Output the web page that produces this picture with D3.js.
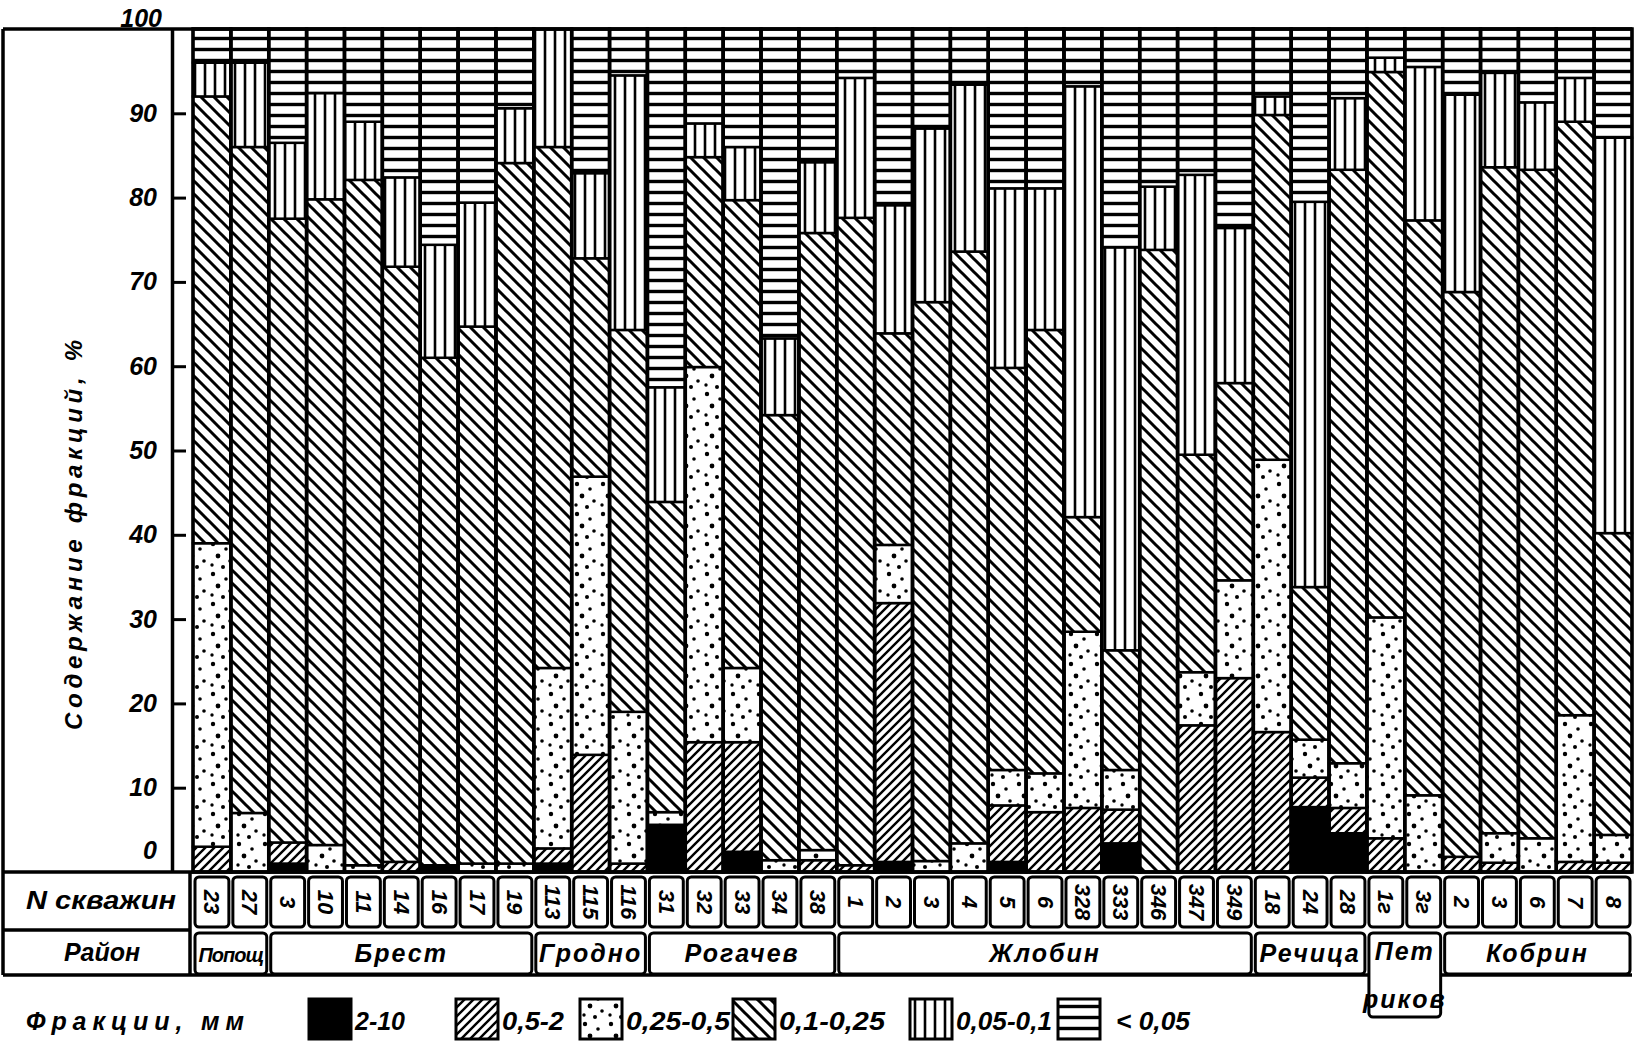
<!DOCTYPE html>
<html>
<head>
<meta charset="utf-8">
<script src="https://cdn.jsdelivr.net/npm/d3@7"></script>
<style>
body { margin: 0; background: #fff; }
svg text { font-family: "Liberation Sans", Arial, "DejaVu Sans", sans-serif; font-style: italic; font-weight: bold; fill: #000; }
</style>
</head>
<body>
<svg id="chart"></svg>
<script>
// wells (N скважин) and districts
const wells = ["23","27","3","10","11","14","16","17","19","113","115","116","31","32","33","34","38",
  "1","2","3","4","5","6","328","333","346","347","349","18","24","28","1г","3г","2","3","6","7","8"];
const districts = ["Попощ","Брест","Гродно","Рогачев","Жлобин","Речица","Петриков","Кобрин"];
const districtSize = [2, 7, 3, 5, 11, 3, 2, 5];

// fractions, mm (bottom to top)
const fractionLabels = ["2-10", "0,5-2", "0,25-0,5", "0,1-0,25", "0,05-0,1", "< 0,05"];

// content of each fraction, %
const f2_10   = [0,0,1,0,0,0,0.8,0,0,1,0,0,5.6,0,2.4,0,0, 0,1.2,0,0,1.2,0,0,3.4,0,0,0, 0,7.7,4.6, 0,0, 0,0,0,0,0];
const f05_2   = [3,0,2.5,0,0,1.2,0,0,0,1.8,13.9,1,0,15.4,13,0,1.4, 0.8,30.7,0,0,6.7,7.1,7.6,4,0,17.4,23, 16.6,3.5,3, 4,0, 1.8,1.1,0,1.2,1.1];
const f025_05 = [36,7,0,3.2,0.8,0,0,1,1,21.4,33,18,1.5,44.5,8.8,1.4,1.2, 0,6.9,1.3,3.4,4.2,4.6,20.9,4.7,0,6.3,11.6, 32.3,4.5,5.3, 26.2,9.1, 0,3.5,4,17.4,3.3];
const f01_025 = [53,79,74,76.6,81.3,70.6,60.2,63.7,83.1,61.8,25.9,45.3,36.8,24.9,55.5,52.8,73.2, 76.8,25.1,66.3,70.2,47.7,52.6,13.6,14.2,73.8,25.8,23.4, 40.9,18.1,70.4, 64.7,68.2, 67,79,79.3,70.4,35.8];
const f005_01 = [4,10,9,12.6,6.9,10.6,13.4,14.7,6.5,14,10.1,30.2,13.6,4,6.3,9.1,8.4, 16.6,15.2,20.6,19.8,21.3,16.8,51.1,47.8,7.5,33.2,18.4, 2.2,45.7,8.5, 1.7,18.2, 23.4,11.2,8,5.2,46.9];
const f_005   = [4,4,13.5,7.6,11,17.6,25.6,20.6,9.4,0,17.1,5.5,42.5,11.2,14,36.7,15.8, 5.8,20.9,11.8,6.6,18.9,18.9,6.8,25.9,18.7,17.3,23.6, 8,20.5,8.2, 3.4,4.5, 7.8,5.2,8.7,5.8,12.9];

const W = 1635, H = 1044;
const svg = d3.select("#chart").attr("width", W).attr("height", H);
svg.append("rect").attr("width", W).attr("height", H).attr("fill", "#fff");

const defs = svg.append("defs");
// 0,5-2 : forward hatch
const pF = defs.append("pattern").attr("id", "p1").attr("patternUnits", "userSpaceOnUse").attr("width", 9).attr("height", 9);
pF.append("rect").attr("width", 9).attr("height", 9).attr("fill", "#fff");
pF.append("path").attr("d", "M0,9L9,0M-2.25,2.25L2.25,-2.25M6.75,11.25L11.25,6.75").attr("stroke", "#000").attr("stroke-width", 2.4);
// 0,25-0,5 : dots
const pD = defs.append("pattern").attr("id", "p2").attr("patternUnits", "userSpaceOnUse").attr("width", 26).attr("height", 30);
pD.append("rect").attr("width", 26).attr("height", 30).attr("fill", "#fff");
[[5,4,2.2],[18,9,1.8],[10,16,2.4],[22,21,1.8],[4,25,1.7],[15,27,2]].forEach(c =>
  pD.append("circle").attr("cx", c[0]).attr("cy", c[1]).attr("r", c[2]).attr("fill", "#000"));
// 0,1-0,25 : back hatch
const pB = defs.append("pattern").attr("id", "p3").attr("patternUnits", "userSpaceOnUse").attr("width", 13).attr("height", 13);
pB.append("rect").attr("width", 13).attr("height", 13).attr("fill", "#fff");
pB.append("path").attr("d", "M0,0L13,13M-3.25,9.75L3.25,16.25M9.75,-3.25L16.25,3.25").attr("stroke", "#000").attr("stroke-width", 3);
// 0,05-0,1 : vertical lines
const pV = defs.append("pattern").attr("id", "p4").attr("patternUnits", "userSpaceOnUse").attr("width", 10).attr("height", 10);
pV.append("rect").attr("width", 10).attr("height", 10).attr("fill", "#fff");
pV.append("path").attr("d", "M5,0V10").attr("stroke", "#000").attr("stroke-width", 2.6);
// < 0,05 : horizontal lines
const pH = defs.append("pattern").attr("id", "p5").attr("patternUnits", "userSpaceOnUse").attr("width", 10).attr("height", 11);
pH.append("rect").attr("width", 10).attr("height", 11).attr("fill", "#fff");
pH.append("path").attr("d", "M0,5.5H10").attr("stroke", "#000").attr("stroke-width", 3.4);

const fills = ["#000", "url(#p1)", "url(#p2)", "url(#p3)", "url(#p4)", "url(#p5)"];

const y = d3.scaleLinear().domain([0, 100]).range([872, 29]);
const x = d3.scaleBand().domain(d3.range(wells.length)).range([193, 1632]).padding(0);

const keys = ["a","b","c","d","e","f"];
const series = [f2_10, f05_2, f025_05, f01_025, f005_01, f_005];
const rows = wells.map((w, i) => {
  const r = { i: i };
  keys.forEach((k, j) => r[k] = series[j][i]);
  return r;
});
const stacked = d3.stack().keys(keys)(rows);

svg.append("g").selectAll("g").data(stacked).join("g")
  .attr("fill", (d, k) => fills[k])
  .selectAll("rect").data(d => d.filter(s => s[1] - s[0] > 0.05)).join("rect")
  .attr("x", d => x(d.data.i))
  .attr("width", x.bandwidth())
  .attr("y", d => y(d[1]))
  .attr("height", d => y(d[0]) - y(d[1]))
  .attr("stroke", "#000").attr("stroke-width", 2.5);

// bar outlines
svg.append("g").selectAll("rect").data(rows).join("rect")
  .attr("x", d => x(d.i)).attr("width", x.bandwidth())
  .attr("y", y(100)).attr("height", y(0) - y(100))
  .attr("fill", "none").attr("stroke", "#000").attr("stroke-width", 3.5);

// frame
const frame = svg.append("g").attr("stroke", "#000").attr("stroke-width", 3.5).attr("fill", "none");
frame.append("line").attr("x1", 3).attr("x2", 1632).attr("y1", 29).attr("y2", 29);
frame.append("line").attr("x1", 3).attr("x2", 3).attr("y1", 29).attr("y2", 975);
frame.append("line").attr("x1", 3).attr("x2", 1632).attr("y1", 872).attr("y2", 872);
frame.append("line").attr("x1", 3).attr("x2", 1632).attr("y1", 975).attr("y2", 975);
frame.append("line").attr("x1", 3).attr("x2", 190).attr("y1", 930).attr("y2", 930);
frame.append("line").attr("x1", 190).attr("x2", 190).attr("y1", 872).attr("y2", 975);

// y axis
const yAxis = d3.axisLeft(y).tickValues(d3.range(0, 101, 10)).tickSize(-14).tickSizeOuter(0).tickPadding(15).tickFormat(d3.format("d"));
const ya = svg.append("g").attr("transform", "translate(172,0)").call(yAxis);
ya.attr("font-family", null).attr("font-size", null);
ya.select(".domain").attr("stroke-width", 3.5);
ya.selectAll(".tick line").attr("stroke-width", 3);
ya.selectAll(".tick text").style("font-size", "25px");
ya.selectAll(".tick").filter(d => d === 0 || d === 100).select("line").remove();
ya.selectAll(".tick").filter(d => d === 0).select("text").attr("dy", "-0.55em");
ya.selectAll(".tick").filter(d => d === 100).select("text").attr("dy", "-0.1em").attr("x", -10);

svg.append("text")
  .attr("transform", "translate(82,535) rotate(-90)")
  .attr("text-anchor", "middle")
  .attr("textLength", 390).attr("lengthAdjust", "spacing")
  .style("font-size", "24px")
  .text("Содержание фракций, %");

// table: well numbers
svg.append("text").attr("x", 26).attr("y", 909).attr("textLength", 150).attr("lengthAdjust", "spacingAndGlyphs")
  .style("font-size", "25px").text("N скважин");
svg.append("text").attr("x", 102).attr("y", 961).attr("text-anchor", "middle")
  .style("font-size", "25px").text("Район");

const cells = svg.append("g");
cells.selectAll("rect").data(rows).join("rect")
  .attr("x", d => x(d.i) + 2).attr("width", x.bandwidth() - 4)
  .attr("y", 877).attr("height", 50).attr("rx", 4)
  .attr("fill", "#fff").attr("stroke", "#000").attr("stroke-width", 3);
cells.selectAll("text").data(rows).join("text")
  .attr("transform", d => `translate(${x(d.i) + x.bandwidth() / 2},902) rotate(90)`)
  .attr("text-anchor", "middle").attr("dominant-baseline", "central")
  .style("font-size", "22px")
  .text(d => wells[d.i]);

// table: districts
let start = 0;
const groups = districts.map((name, k) => {
  const g = { name: name, i0: start, n: districtSize[k] };
  start += districtSize[k];
  return g;
});
const dg = svg.append("g");
dg.selectAll("rect").data(groups).join("rect")
  .attr("x", d => x(d.i0) + 2)
  .attr("width", d => x.bandwidth() * d.n - 4)
  .attr("y", 933)
  .attr("height", d => d.name === "Петриков" ? 84 : 41)
  .attr("rx", 4)
  .attr("fill", "#fff").attr("stroke", "#000").attr("stroke-width", 3);
dg.selectAll("text").data(groups).join("text")
  .attr("x", d => x(d.i0) + x.bandwidth() * d.n / 2)
  .attr("y", 962)
  .attr("text-anchor", "middle")
  .style("font-size", d => d.name === "Попощ" ? "20px" : "25px")
  .style("letter-spacing", d => d.name === "Попощ" ? "-1px" : "2px")
  .each(function (d) {
    const t = d3.select(this);
    if (d.name === "Петриков") {
      t.append("tspan").attr("x", x(d.i0) + x.bandwidth()).attr("dy", -2).text("Пет");
      t.append("tspan").attr("x", x(d.i0) + x.bandwidth()).attr("dy", 48).text("риков");
    } else {
      t.text(d.name);
    }
  });

// legend
const legendX = [309, 456, 580, 733, 910, 1058];
const legendTextW = [50, 62, 104, 106, 96, 74];
const lg = svg.append("g");
lg.append("text").attr("x", 26).attr("y", 1030).attr("textLength", 218).attr("lengthAdjust", "spacing")
  .style("font-size", "25px").text("Фракции, мм");
const items = lg.selectAll("g").data(fractionLabels).join("g")
  .attr("transform", (d, k) => `translate(${legendX[k]},0)`);
items.append("rect").attr("x", 0).attr("y", 999).attr("width", 42).attr("height", 40)
  .attr("fill", (d, k) => fills[k]).attr("stroke", "#000").attr("stroke-width", 3);
items.append("text").attr("x", (d, k) => k === 5 ? 58 : 46).attr("y", 1030)
  .attr("textLength", (d, k) => legendTextW[k]).attr("lengthAdjust", "spacingAndGlyphs")
  .style("font-size", "25px").text(d => d);
</script>
</body>
</html>
